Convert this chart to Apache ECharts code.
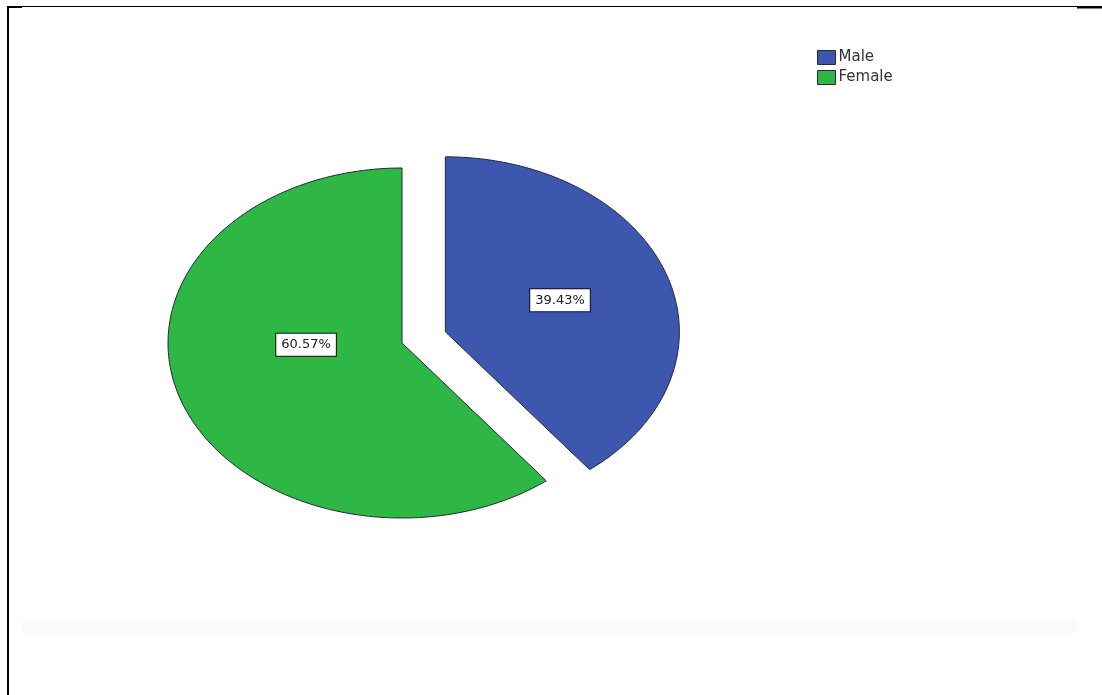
<!DOCTYPE html>
<html>
<head>
<meta charset="utf-8">
<script src="https://cdn.jsdelivr.net/npm/echarts@6/dist/echarts.min.js"></script>
<style>
html,body{margin:0;padding:0;background:#fff;}
#chart{width:1102px;height:695px;}
</style>
</head>
<body>
<div id="chart"></div>
<script>
// ---- data ----
const categories = ['Male', 'Female'];
const percents = [39.43, 60.57];
const percentLabels = ['39.43%', '60.57%'];
const sliceColors = ['#3d56ae', '#2eb744'];

// ---- layout constants ----
const CX = 402, CY = 343, RX = 234, RY = 175;
const explode = [0.196, 0];          // fraction of radius
const labelPos = [[0.49, -0.18], [-0.41, 0.01]]; // label position relative to slice center (fraction of rx, ry)

const total = percents.reduce((a, b) => a + b, 0);

function makeRender(idx) {
  return function (params, api) {
    const v = api.value(0);
    let start = 0;
    for (let i = 0; i < idx; i++) start += percents[i];
    const a0 = start / total * Math.PI * 2;
    const a1 = (start + v) / total * Math.PI * 2;
    const mid = (a0 + a1) / 2;
    const cx = CX + RX * explode[idx] * Math.sin(mid);
    const cy = CY - RY * explode[idx] * Math.cos(mid);
    const pts = [[cx, cy]];
    const n = 160;
    for (let k = 0; k <= n; k++) {
      const a = a0 + (a1 - a0) * k / n;
      pts.push([cx + RX * Math.sin(a), cy - RY * Math.cos(a)]);
    }
    const lx = cx + RX * labelPos[idx][0];
    const ly = cy + RY * labelPos[idx][1];
    return {
      type: 'group',
      children: [
        {
          type: 'polygon',
          shape: { points: pts },
          style: { fill: sliceColors[idx], stroke: '#1f2a3a', lineWidth: 1 }
        },
        {
          type: 'text',
          style: {
            text: percentLabels[idx],
            x: lx, y: ly,
            align: 'center', verticalAlign: 'middle',
            font: '13px "DejaVu Sans", sans-serif',
            fill: '#222',
            backgroundColor: '#fff',
            borderColor: '#111',
            borderWidth: 1,
            padding: [5, 5, 4, 5]
          },
          z2: 10
        }
      ]
    };
  };
}

const chart = echarts.init(document.getElementById('chart'), null, { renderer: 'canvas' });
chart.setOption({
  animation: false,
  backgroundColor: '#fff',
  legend: {
    orient: 'vertical',
    left: 812, top: 45,
    itemWidth: 18, itemHeight: 14, itemGap: 5,
    icon: 'rect',
    data: categories,
    textStyle: { fontSize: 15, color: '#333', fontFamily: '"DejaVu Sans", sans-serif', padding: [0, 0, 0, -2] },
    itemStyle: { borderColor: '#2a2a3a', borderWidth: 1 }
  },
  graphic: [
    { type: 'rect', shape: { x: 22, y: 620, width: 1055, height: 13 }, style: { fill: '#fafafa' }, silent: true },
    { type: 'line', shape: { x1: 8, y1: 6.5, x2: 1100, y2: 6.5 }, style: { stroke: '#000', lineWidth: 1 } },
    { type: 'rect', shape: { x: 7, y: 6, width: 15, height: 2 }, style: { fill: '#000' } },
    { type: 'rect', shape: { x: 1077, y: 6, width: 25, height: 2.5 }, style: { fill: '#000' } },
    { type: 'rect', shape: { x: 7, y: 6, width: 2, height: 690 }, style: { fill: '#000' } }
  ],
  series: categories.map((name, i) => ({
    type: 'custom',
    name: name,
    coordinateSystem: 'none',
    itemStyle: { color: sliceColors[i] },
    data: [[percents[i]]],
    renderItem: makeRender(i)
  }))
});
</script>
</body>
</html>
